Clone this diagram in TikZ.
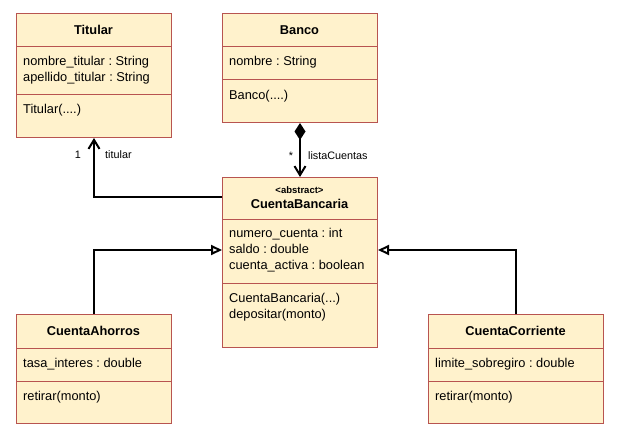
\documentclass[tikz,border=0pt]{standalone}
\usepackage{fontspec}
\setmainfont{Liberation Sans}
\usetikzlibrary{arrows.meta}
\definecolor{umlfill}{HTML}{FFF2CC}
\definecolor{umlborder}{HTML}{B85450}
\frenchspacing
\tikzset{
  classbox/.style={draw=umlborder, fill=umlfill, line width=1pt, anchor=north west, inner sep=0pt},
  sepline/.style={draw=umlborder, line width=1pt},
  clsname/.style={inner sep=0pt, font=\fontsize{12.8}{15.5}\selectfont\bfseries},
  stereo/.style={inner sep=0pt, font=\fontsize{9.5}{11}\selectfont\bfseries},
  members/.style={inner sep=0pt, anchor=west, align=left, font=\fontsize{12.8}{15.7}\selectfont},
  lbl/.style={inner sep=0pt, font=\fontsize{10.8}{13}\selectfont},
  assoc/.style={line width=2pt, -{Straight Barb[length=9pt,width=11pt,line width=2pt]}},
  comp/.style={line width=2pt, {Diamond[length=17pt,width=11pt]}-{Straight Barb[length=9pt,width=11pt,line width=2pt]}},
  inherit/.style={line width=2pt, -{Triangle[open,length=11pt,width=10pt,fill=white,line width=2pt]}},
}
\begin{document}
\begin{tikzpicture}[x={(1pt,0)}, y={(0,-1pt)}]
\useasboundingbox[fill=white] (0,0) rectangle (627,436);

% Titular
\node[classbox, minimum width=155pt, minimum height=124pt] (titular) at (16,13) {};
\draw[sepline] (titular.west |- 0,47) -- (titular.east |- 0,47);
\draw[sepline] (titular.west |- 0,95) -- (titular.east |- 0,95);
\node[clsname] (titularname) at (93.5,30) {Titular};
\node[members] (titularattr) at (23,70) {nombre\_titular : String\\apellido\_titular : String};
\node[members] (titularops) at (23,110) {Titular(....)};

% Banco
\node[classbox, minimum width=155pt, minimum height=109pt] (banco) at (222,13) {};
\draw[sepline] (banco.west |- 0,47) -- (banco.east |- 0,47);
\draw[sepline] (banco.west |- 0,80) -- (banco.east |- 0,80);
\node[clsname] (banconame) at (299.5,30) {Banco};
\node[members] (bancoattr) at (229,62.5) {nombre : String};
\node[members] (bancoops) at (229,96) {Banco(....)};

% CuentaBancaria
\node[classbox, minimum width=155pt, minimum height=170pt] (cb) at (222,177) {};
\draw[sepline] (cb.west |- 0,219) -- (cb.east |- 0,219);
\draw[sepline] (cb.west |- 0,283) -- (cb.east |- 0,283);
\node[stereo] (cbstereo) at (299.5,190.5) {<abstract>};
\node[clsname] (cbname) at (299.5,203.5) {CuentaBancaria};
\node[members] (cbattr) at (229,250) {numero\_cuenta : int\\saldo : double\\cuenta\_activa : boolean};
\node[members] (cbops) at (229,307.5) {CuentaBancaria(...)\\depositar(monto)};

% CuentaAhorros
\node[classbox, minimum width=155pt, minimum height=109pt] (ca) at (16,314) {};
\draw[sepline] (ca.west |- 0,348) -- (ca.east |- 0,348);
\draw[sepline] (ca.west |- 0,381) -- (ca.east |- 0,381);
\node[clsname] (caname) at (93.5,330.5) {CuentaAhorros};
\node[members] (caattr) at (23,364) {tasa\_interes : double};
\node[members] (caops) at (23,397) {retirar(monto)};

% CuentaCorriente
\node[classbox, minimum width=175pt, minimum height=109pt] (cc) at (428,314) {};
\draw[sepline] (cc.west |- 0,348) -- (cc.east |- 0,348);
\draw[sepline] (cc.west |- 0,381) -- (cc.east |- 0,381);
\node[clsname] (ccname) at (515.5,330.5) {CuentaCorriente};
\node[members] (ccattr) at (435,364) {limite\_sobregiro : double};
\node[members] (ccops) at (435,397) {retirar(monto)};

% Connectors
\draw[assoc] (cb.west |- 0,197) -| (titular.south);
\node[lbl] (mult1) at (78,155) {1};
\node[lbl, anchor=west] (roletitular) at (105,155) {titular};

\draw[comp] (banco.south) -- (cb.north);
\node[lbl] (multstar) at (291,156) {*};
\node[lbl, anchor=west] (rolelista) at (308,156) {listaCuentas};

\draw[inherit] (ca.north) |- (cb.west |- 0,250);
\draw[inherit] (cc.north) |- (cb.east |- 0,250);
\end{tikzpicture}
\end{document}
